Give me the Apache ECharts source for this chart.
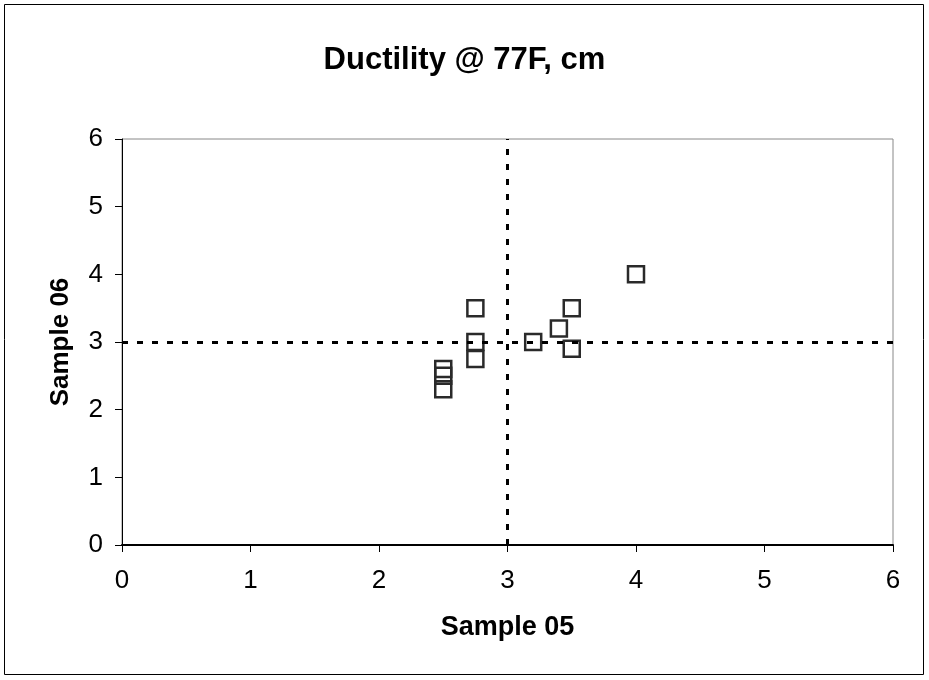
<!DOCTYPE html>
<html>
<head>
<meta charset="utf-8">
<script src="https://cdn.jsdelivr.net/npm/echarts@6/dist/echarts.min.js"></script>
<style>
html,body{margin:0;padding:0;background:#fff;}
#c{width:929px;height:680px;}
</style>
</head>
<body>
<div id="c"></div>
<script>
const titleText = 'Ductility @ 77F, cm';
const xName = 'Sample 05';
const yName = 'Sample 06';
const sample05 = [4.0, 2.75, 3.5, 3.4, 3.2, 2.75, 2.75, 3.5, 2.5, 2.5, 2.5];
const sample06 = [4.0, 3.5, 3.5, 3.2, 3.0, 3.0, 2.75, 2.9, 2.6, 2.5, 2.3];
const refX = 3;
const refY = 3;

const chart = echarts.init(document.getElementById('c'), null, {renderer: 'canvas'});
const pts = sample05.map((x, i) => [x, sample06[i]]);
const font = 'Arial, "Liberation Sans", sans-serif';
chart.setOption({
  animation: false,
  backgroundColor: '#fff',
  title: {
    text: titleText, left: 'center', top: 40,
    textStyle: {fontFamily: font, fontSize: 31, fontWeight: 'bold', color: '#000'}
  },
  graphic: [{
    type: 'rect', shape: {x: 4.5, y: 4.5, width: 919, height: 670},
    style: {fill: 'none', stroke: '#000', lineWidth: 1}, silent: true
  }],
  grid: {left: 122, right: 36, top: 139, bottom: 135, show: true, borderColor: '#888', borderWidth: 1},
  xAxis: {
    type: 'value', min: 0, max: 6, interval: 1,
    name: xName, nameLocation: 'middle', nameGap: 69,
    nameTextStyle: {fontFamily: font, fontSize: 27, fontWeight: 'bold', color: '#000'},
    axisLine: {show: true, lineStyle: {color: '#000', width: 2}},
    axisTick: {show: true, inside: false, length: 7, lineStyle: {color: '#000', width: 1}},
    axisLabel: {fontFamily: font, fontSize: 26, color: '#000', margin: 23},
    splitLine: {show: false}
  },
  yAxis: {
    type: 'value', min: 0, max: 6, interval: 1,
    name: yName, nameLocation: 'middle', nameGap: 48, nameRotate: 90,
    nameTextStyle: {fontFamily: font, fontSize: 26, fontWeight: 'bold', color: '#000'},
    axisLine: {show: true, lineStyle: {color: '#000', width: 1}},
    axisTick: {show: true, inside: false, length: 7, lineStyle: {color: '#000', width: 1}},
    axisLabel: {fontFamily: font, fontSize: 26, color: '#000', margin: 19},
    splitLine: {show: false}
  },
  series: [{
    type: 'scatter',
    data: pts,
    symbol: 'rect',
    symbolSize: 16,
    itemStyle: {color: 'rgba(255,255,255,0)', borderColor: '#2a2a2a', borderWidth: 2.5, opacity: 1},
    markLine: {
      silent: true,
      symbol: ['none', 'none'],
      label: {show: false},
      lineStyle: {color: '#000', type: [6, 9], width: 3},
      data: [{xAxis: refX}, {yAxis: refY}]
    },
    z: 3
  }]
});
</script>
</body>
</html>
